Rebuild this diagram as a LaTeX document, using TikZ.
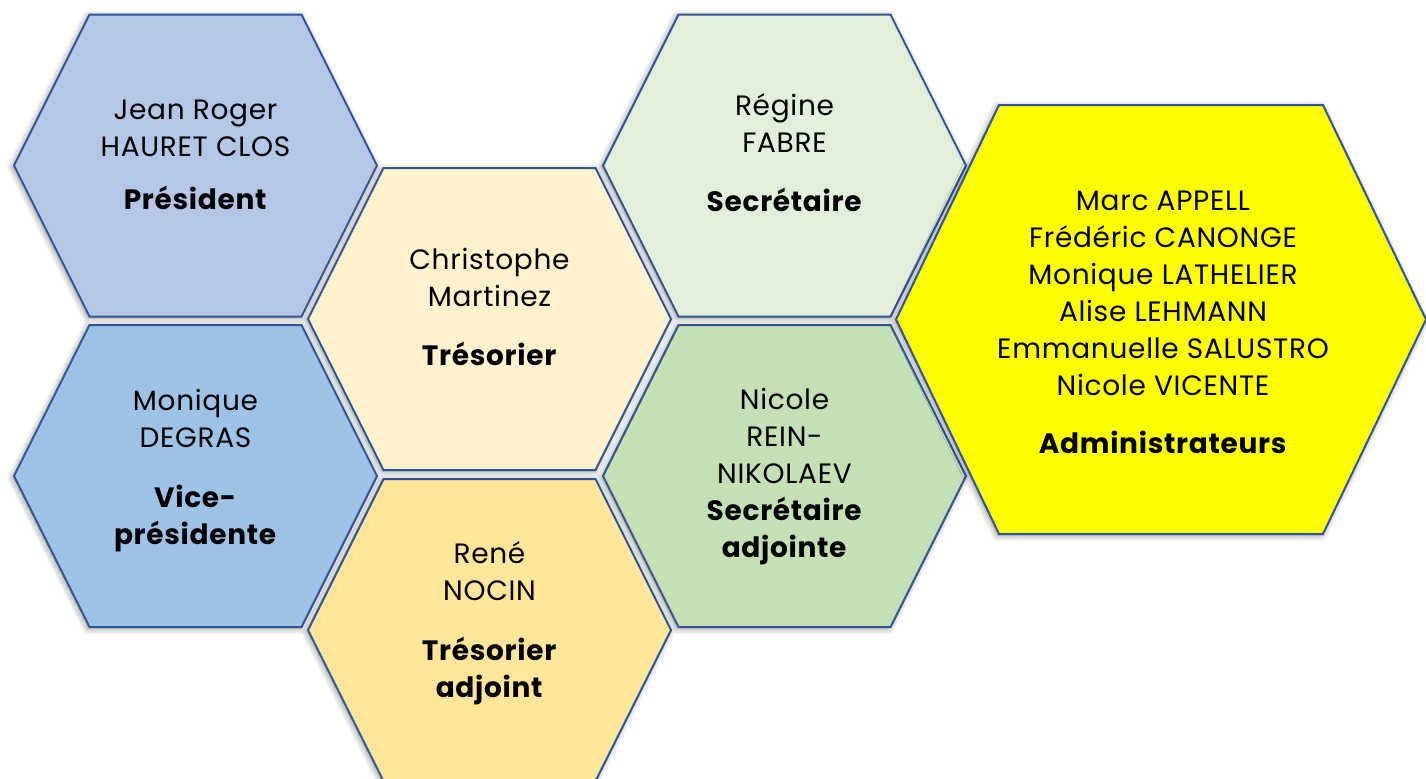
\documentclass[tikz,border=0pt]{standalone}
\usepackage{fontspec}
\setmainfont{Poppins}[LetterSpace=2.5]
\usetikzlibrary{shadows.blur}

\definecolor{cellline}{HTML}{2F5597}
\definecolor{presblue}{HTML}{B4C7E7}
\definecolor{viceblue}{HTML}{9DC3E6}
\definecolor{tresyellow}{HTML}{FFF2CC}
\definecolor{adjyellow}{HTML}{FFE699}
\definecolor{secgreen}{HTML}{E2EFDA}
\definecolor{adjgreen}{HTML}{C5E0B4}
\definecolor{adminyellow}{HTML}{FFFF00}

\tikzset{
  cell/.style={draw=cellline, line width=1pt, line join=miter,
    blur shadow={shadow xshift=-0.8pt, shadow yshift=-0.8pt,
      shadow blur radius=3pt, shadow opacity=45}},
  names/.style={anchor=north, inner sep=0pt, align=center,
    font=\fontsize{14}{18.5}\selectfont}
}

% fill, centre, half width, half height, slant
\newcommand{\hexcell}[5]{%
  \draw[cell, fill=#1, shift={#2}] (-#3,0) -- (-#3+#5,-#4) -- (#3-#5,-#4)
    -- (#3,0) -- (#3-#5,#4) -- (-#3+#5,#4) -- cycle;}

\begin{document}
\begin{tikzpicture}[x=0.5pt, y=-0.5pt]
  \useasboundingbox (0,0) rectangle (1426,778);

  % bureau
  \hexcell{presblue}{(195.5,165.5)}{181.5}{151}{75.5}
  \hexcell{tresyellow}{(489.5,319)}{181.5}{151}{75.5}
  \hexcell{viceblue}{(195.5,476)}{181.5}{151}{75.5}
  \hexcell{adjyellow}{(489.5,630)}{181.5}{151}{75.5}
  \hexcell{secgreen}{(784.5,165.5)}{181.5}{151}{75.5}
  \hexcell{adjgreen}{(784.5,476)}{181.5}{151}{75.5}
  % conseil
  \hexcell{adminyellow}{(1161,319.5)}{265}{214.5}{103}

  \node[names] (president) at (195.5,93.1)
    {\strut Jean Roger\\HAURET CLOS\\[8pt]\textbf{Président}};
  \node[names] (tresorier) at (489.5,243.1)
    {\strut Christophe\\Martinez\\[11pt]\textbf{Trésorier}};
  \node[names] (vicepres) at (195.5,384.1)
    {\strut Monique\\DEGRAS\\[11.5pt]\textbf{Vice-}\\\textbf{présidente}};
  \node[names] (tresadj) at (489.5,537.1)
    {\strut René\\NOCIN\\[11.5pt]\textbf{Trésorier}\\\textbf{adjoint}};
  \node[names] (secretaire) at (784.5,89.1)
    {\strut Régine\\FABRE\\[11pt]\textbf{Secrétaire}};
  \node[names] (secadj) at (784.5,383.1)
    {\strut Nicole\\REIN-\\NIKOLAEV\\\textbf{Secrétaire}\\\textbf{adjointe}};
  \node[names] (admins) at (1163,184.1)
    {\strut Marc APPELL\\Frédéric CANONGE\\Monique LATHELIER\\Alise LEHMANN\\
     Emmanuelle SALUSTRO\\Nicole VICENTE\\[10.5pt]\textbf{Administrateurs}};
\end{tikzpicture}
\end{document}
